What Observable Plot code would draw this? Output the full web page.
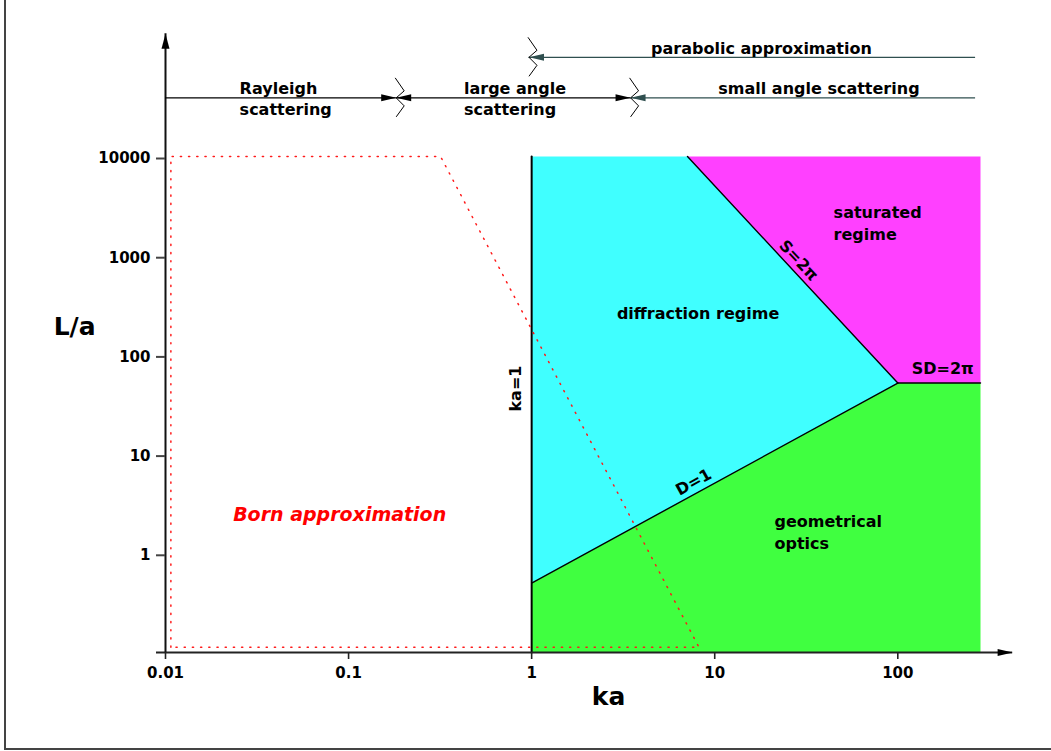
<!DOCTYPE html>
<html><head><meta charset="utf-8">
<script src="https://cdn.jsdelivr.net/npm/d3@7"></script>
<script src="https://cdn.jsdelivr.net/npm/@observablehq/plot@0.6"></script>
<style>
body{margin:0;background:#fff;}
#wrap{position:relative;width:1051px;height:751px;overflow:hidden;background:#fff;}
#frame{position:absolute;left:4px;top:-5px;width:1100px;height:755px;border-left:2px solid #444;border-bottom:2px solid #444;box-sizing:border-box;pointer-events:none;}
</style></head><body><div id="wrap"><div id="frame"></div></div>
<script>
// ---- data ----
const xTicks = [0.01, 0.1, 1, 10, 100];
const yTicks = [1, 10, 100, 1000, 10000];

// regime polygons, [ka, L/a]
const diffractionRegion = [[1, 0.5], [1, 10000], [7.1, 10000], [100, 52], [1, 0.5]];
const saturatedRegion   = [[7.1, 10000], [283, 10000], [283, 52], [100, 52], [7.1, 10000]];
const geometricRegion   = [[1, 0.1], [1, 0.5], [100, 52], [283, 52], [283, 0.1], [1, 0.1]];
const bornRegion        = [[0.0107, 0.113], [0.0107, 10000], [0.318, 10000], [8.2, 0.113], [0.0107, 0.113]];

// boundaries
const lineKa1 = [[1, 0.1], [1, 10000]];
const lineD1  = [[1, 0.5], [100, 52]];
const lineS   = [[7.1, 10000], [100, 52]];
const lineSD  = [[100, 52], [283, 52]];

// scattering ranges along the top
const rangeNames = ["Rayleigh\nscattering", "large angle\nscattering", "small angle scattering", "parabolic approximation"];
const rangeFrom  = [0.01, 0.182, 3.47, 0.967];
const rangeTo    = [0.182, 3.47, 266, 266];
const rangeLevel = [39000, 39000, 39000, 100000];
const headAtFrom = [false, true, true, true];
const headAtTo   = [true, true, false, false];
const breaks     = [[0.182, 39000], [3.47, 39000], [0.967, 100000]];

// ---- build ----
const FONT = "DejaVu Sans, Liberation Sans, Arial, sans-serif";
const teal = "#2f4f4f";
const rangeColor = [ "#000", "#000", teal, teal ];

const arrowUp    = {draw(c){ c.moveTo(0,0); c.lineTo(4,15); c.lineTo(-4,15); c.closePath(); }};
const arrowRight = {draw(c){ c.moveTo(0,0); c.lineTo(-15,-3.5); c.lineTo(-15,3.5); c.closePath(); }};
const arrowLeft  = {draw(c){ c.moveTo(0,0); c.lineTo(15,-3.5); c.lineTo(15,3.5); c.closePath(); }};
const zigzag     = {draw(c){ c.moveTo(-1,-20); c.lineTo(8,-7); c.lineTo(0,0); c.lineTo(8,8); c.lineTo(0,19); }};

const segs = rangeNames.map((n, i) => ({x1: rangeFrom[i], x2: rangeTo[i], y: rangeLevel[i], c: rangeColor[i]}));
const headsL = [], headsR = [];
rangeNames.forEach((n, i) => {
  if (headAtFrom[i]) headsL.push({x: rangeFrom[i], y: rangeLevel[i], c: rangeColor[i]});
  if (headAtTo[i]) headsR.push({x: rangeTo[i], y: rangeLevel[i], c: rangeColor[i]});
});

const poly = (pts, color) => Plot.line(pts, {x: d => d[0], y: d => d[1], fill: color, stroke: "none"});
const bound = (pts, w) => Plot.line(pts, {x: d => d[0], y: d => d[1], stroke: "#000", strokeWidth: w});
const label = (t, x, y, o = {}) => Plot.text([{t, x, y}], Object.assign({
  x: "x", y: "y", text: "t", fontFamily: FONT, fontWeight: "bold", fontSize: 16, fill: "#000"
}, o));

const chart = Plot.plot({
  width: 1051,
  height: 751,
  marginLeft: 165,
  marginBottom: 99,
  marginTop: 20,
  marginRight: 20,
  style: {background: "#fff", fontFamily: FONT},
  x: {type: "log", domain: [0.01, 100], range: [165, 897.3]},
  y: {type: "log", domain: [0.1, 10000], range: [652, 156]},
  marks: [
    poly(diffractionRegion, "#40ffff"),
    poly(saturatedRegion, "#ff40ff"),
    poly(geometricRegion, "#40ff40"),
    bound(lineD1, 1.4),
    bound(lineS, 1.4),
    bound(lineSD, 1.4),
    bound(lineKa1, 2),
    Plot.line(bornRegion, {x: d => d[0], y: d => d[1], stroke: "#ff1a1a", strokeWidth: 1.5, strokeDasharray: "1.2,7"}),

    // axes lines with arrows
    Plot.ruleY([{y: 0.1, a: 0.00893, b: 424}], {y: "y", x1: "a", x2: "b", stroke: "#222", strokeWidth: 2}),
    Plot.ruleX([{x: 0.01, a: 0.1, b: 173000}], {x: "x", y1: "a", y2: "b", stroke: "#111", strokeWidth: 2}),
    Plot.dot([{x: 424, y: 0.1}], {x: "x", y: "y", symbol: arrowRight, fill: "#000", stroke: "none"}),
    Plot.dot([{x: 0.01, y: 173000}], {x: "x", y: "y", symbol: arrowUp, fill: "#000", stroke: "none"}),

    Plot.axisX(xTicks, {anchor: "bottom", tickSize: 7, tickPadding: 8, fontSize: 15, fontWeight: "bold",
      fontFamily: FONT, stroke: "#222", strokeWidth: 1.6, tickFormat: d => String(d), label: null, color: "#000"}),
    Plot.axisY(yTicks, {anchor: "left", tickSize: 9, tickPadding: 6, fontSize: 15, fontWeight: "bold",
      fontFamily: FONT, stroke: "#444", strokeWidth: 2, tickFormat: d => String(d), label: null, color: "#000", dy: 2}),

    // top scattering ranges
    Plot.ruleY(segs, {y: "y", x1: "x1", x2: "x2", stroke: "c", strokeWidth: 1.3}),
    Plot.dot(headsL, {x: "x", y: "y", symbol: arrowLeft, fill: "c", stroke: "none"}),
    Plot.dot(headsR, {x: "x", y: "y", symbol: arrowRight, fill: "c", stroke: "none"}),
    Plot.dot(breaks, {x: d => d[0], y: d => d[1], symbol: zigzag, fill: "none", stroke: "#000", strokeWidth: 1}),

    label(rangeNames[0], 0.0254, 39000, {textAnchor: "start", lineAnchor: "middle", lineHeight: 1.3}),
    label(rangeNames[1], 0.427, 39000, {textAnchor: "start", lineAnchor: "middle", lineHeight: 1.3}),
    label(rangeNames[2], 37.1, 48000),
    label(rangeNames[3], 18.0, 122000),

    // regime labels
    label("diffraction regime", 8.11, 261),
    label("saturated\nregime", 44.6, 2180, {textAnchor: "start", lineAnchor: "middle", lineHeight: 1.375}),
    label("geometrical\noptics", 21.2, 1.67, {textAnchor: "start", lineAnchor: "middle", lineHeight: 1.36}),
    label("SD=2π", 176, 73),
    label("S=2π", 28.7, 895, {rotate: 47}),
    label("D=1", 7.67, 5.2, {rotate: -29}),
    label("ka=1", 0.818, 45.8, {rotate: -90}),
    label("Born approximation", 0.0894, 2.46, {fill: "#ff0000", fontStyle: "italic", fontSize: 19}),

    // axis titles
    label("ka", 2.63, 0.0352, {fontSize: 25}),
    label("L/a", 0.00319, 193, {fontSize: 25})
  ]
});
document.getElementById("wrap").prepend(chart);
</script>
</body></html>
